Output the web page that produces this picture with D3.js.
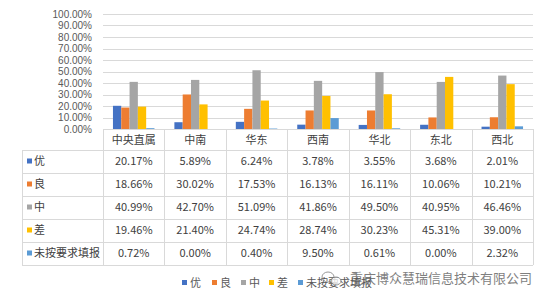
<!DOCTYPE html>
<html><head><meta charset="utf-8">
<script src="https://cdn.jsdelivr.net/npm/d3@7"></script>
<style>
body{margin:0;background:#fff;}
svg{display:block;font-family:"Noto Sans CJK SC","Noto Sans",sans-serif;}
</style></head><body>
<svg id="c" width="548" height="303"></svg>
<script>
const categories = ["中央直属","中南","华东","西南","华北","东北","西北"];
const seriesNames = ["优","良","中","差","未按要求填报"];
const seriesColors = ["#4472C4","#ED7D31","#A5A5A5","#FFC000","#5B9BD5"];
const v_you   = [20.17,5.89,6.24,3.78,3.55,3.68,2.01];
const v_liang = [18.66,30.02,17.53,16.13,16.11,10.06,10.21];
const v_zhong = [40.99,42.70,51.09,41.86,49.50,40.95,46.46];
const v_cha   = [19.46,21.40,24.74,28.74,30.23,45.31,39.00];
const v_wei   = [0.72,0.00,0.40,9.50,0.61,0.00,2.32];
const seriesValues = [v_you,v_liang,v_zhong,v_cha,v_wei];
const yTicks = [0,10,20,30,40,50,60,70,80,90,100];

(function(){
const svg = d3.select("#c");
const pLeft = 103, pRight = 533, pTop = 14, pBottom = 129;
const x = d3.scaleBand().domain(categories).range([pLeft,pRight]).padding(0);
const y = d3.scaleLinear().domain([0,100]).range([pBottom,pTop]);
const xs = d3.scaleBand().domain(seriesNames).range([0,x.bandwidth()]).paddingInner(0).paddingOuter(1.2);

// gridlines
svg.append("g").selectAll("line").data(yTicks).join("line")
  .attr("x1",pLeft).attr("x2",pRight)
  .attr("y1",d=>Math.round(y(d))+0.5).attr("y2",d=>Math.round(y(d))+0.5)
  .attr("stroke","#d9d9d9").attr("stroke-width",1);

// y labels
svg.append("g").selectAll("text").data(yTicks).join("text")
  .attr("x",92).attr("y",d=>y(d)).attr("dy","0.35em")
  .attr("text-anchor","end").attr("font-size",10)
  .attr("font-family","'Liberation Sans',Arial,sans-serif").attr("fill","#595959")
  .text(d=>d.toFixed(2)+"%");

// bars
seriesNames.forEach((s,si)=>{
  svg.append("g").selectAll("rect").data(categories).join("rect")
    .attr("x",c=>x(c)+xs(s))
    .attr("width",xs.bandwidth())
    .attr("y",(c,i)=>y(seriesValues[si][i]))
    .attr("height",(c,i)=>pBottom-y(seriesValues[si][i]))
    .attr("fill",seriesColors[si]);
});

// table
const rowTop = 150, rowH = 23, tblLeft = 22;
const rowBottom = rowTop + rowH*seriesNames.length;
const tg = svg.append("g");
const lineC = "#d9d9d9";
const vx = categories.map(c=>x(c)).concat([pRight]);
tg.selectAll("line.v").data(vx).join("line")
  .attr("x1",d=>Math.round(d)+0.5).attr("x2",d=>Math.round(d)+0.5)
  .attr("y1",pBottom).attr("y2",rowBottom).attr("stroke",lineC);
tg.append("line").attr("x1",tblLeft+0.5).attr("x2",tblLeft+0.5)
  .attr("y1",rowTop).attr("y2",rowBottom).attr("stroke",lineC);
d3.range(seriesNames.length+1).forEach(i=>{
  tg.append("line").attr("x1",tblLeft).attr("x2",pRight)
    .attr("y1",rowTop+i*rowH+0.5).attr("y2",rowTop+i*rowH+0.5).attr("stroke",lineC);
});
tg.selectAll("text.h").data(categories).join("text")
  .attr("x",c=>x(c)+x.bandwidth()/2).attr("y",(pBottom+rowTop)/2+1).attr("dy","0.35em")
  .attr("text-anchor","middle").attr("font-size",11).attr("fill","#404040").text(c=>c);
seriesNames.forEach((s,si)=>{
  const cy = rowTop + si*rowH + rowH/2;
  tg.append("rect").attr("x",27).attr("y",cy-3).attr("width",5).attr("height",5).attr("fill",seriesColors[si]);
  tg.append("text").attr("x",34).attr("y",cy).attr("dy","0.35em").attr("font-size",11).attr("fill","#404040").text(s);
  tg.append("g").selectAll("text").data(categories).join("text")
    .attr("x",c=>x(c)+x.bandwidth()/2).attr("y",cy).attr("dy","0.35em")
    .attr("text-anchor","middle").attr("font-size",11).attr("fill","#404040")
    .text((c,i)=>seriesValues[si][i].toFixed(2)+"%");
});

// legend
const legendX = [182,212,241,269,298];
const lg = svg.append("g");
seriesNames.forEach((s,si)=>{
  lg.append("rect").attr("x",legendX[si]).attr("y",280).attr("width",5).attr("height",5).attr("fill",seriesColors[si]);
  lg.append("text").attr("x",legendX[si]+8).attr("y",283).attr("dy","0.35em").attr("font-size",11).attr("fill","#595959").text(s);
});

// watermark
const wm = svg.append("g").attr("opacity",0.75);
wm.append("ellipse").attr("cx",328).attr("cy",277).attr("rx",6).attr("ry",5).attr("fill","none").attr("stroke","#777");
wm.append("ellipse").attr("cx",336).attr("cy",281).attr("rx",5).attr("ry",4).attr("fill","#fff").attr("stroke","#777");
wm.append("text").attr("x",350).attr("y",278).attr("dy","0.35em").attr("font-size",13).attr("fill","#555")
  .text("重庆博众慧瑞信息技术有限公司");
})();
</script>
</body></html>
